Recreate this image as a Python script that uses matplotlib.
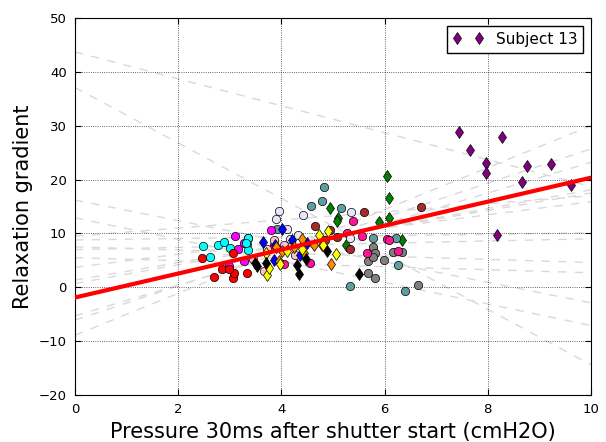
import numpy as np
import matplotlib
matplotlib.use('Agg')
import matplotlib.pyplot as plt

# per-subject data (pressure, gradient)
s13_x = [7.45, 7.66, 8.28, 7.97, 7.97, 8.76, 9.22, 8.67, 9.61, 8.17]
s13_y = [28.9, 25.5, 27.9, 23.1, 21.3, 22.5, 22.8, 19.5, 18.9, 9.8]

green_x = [6.05, 6.09, 6.09, 5.90, 4.94, 5.10, 5.07, 5.25, 6.34]
green_y = [20.6, 16.5, 12.8, 12.1, 14.7, 12.8, 12.4, 7.9, 8.7]

teal_x = [4.83, 4.79, 4.57, 5.15, 5.78, 6.22, 6.25, 5.33, 6.40, 3.92, 3.33, 3.35]
teal_y = [18.6, 16.0, 15.1, 14.7, 9.2, 9.2, 4.1, 0.3, -0.6, 10.8, 8.0, 9.2]

gray_x = [5.78, 5.81, 5.68, 5.98, 5.68, 5.81, 6.17, 6.33, 6.65, 5.77]
gray_y = [7.4, 6.3, 4.8, 5.1, 2.7, 1.7, 6.6, 6.6, 0.4, 5.7]

brown_x = [5.61, 6.70, 4.65, 4.95, 5.08, 5.32, 4.84]
brown_y = [14.0, 14.9, 11.4, 10.6, 9.4, 7.2, 8.7]

dpink_x = [5.38, 5.28, 5.56, 6.05, 6.08, 6.25, 5.65, 4.56, 4.06]
dpink_y = [12.4, 10.1, 9.6, 9.0, 8.7, 6.7, 6.3, 4.6, 4.3]

lav_x = [3.95, 3.90, 4.42, 5.35, 5.33, 4.11, 4.32, 4.17]
lav_y = [14.1, 12.7, 13.4, 13.9, 9.2, 10.8, 9.7, 8.9]

mag_x = [3.10, 3.79, 3.28, 3.15, 2.98, 3.27, 3.86]
mag_y = [9.5, 10.6, 8.2, 7.1, 4.0, 4.8, 7.9]

cyan_x = [2.48, 2.62, 2.78, 2.89, 3.01, 3.35, 3.35, 3.31]
cyan_y = [7.6, 5.7, 7.8, 8.5, 7.3, 9.2, 6.9, 8.2]

red_x = [2.47, 2.70, 2.84, 3.06, 3.09, 3.07, 3.33, 2.98]
red_y = [5.4, 1.9, 3.4, 1.7, 2.6, 6.4, 2.6, 3.4]

pink_x = [3.86, 3.72, 3.67, 4.26, 4.05, 3.45]
pink_y = [8.7, 7.2, 3.0, 6.0, 7.9, 5.2]

blue_x = [3.65, 4.02, 4.21, 3.88, 4.37, 3.86, 4.50]
blue_y = [8.5, 10.8, 8.7, 7.9, 6.0, 5.0, 8.2]

orange_x = [4.40, 4.64, 3.90, 4.01, 4.44, 4.97, 4.79, 4.24, 3.95]
orange_y = [9.0, 7.8, 7.5, 6.8, 6.3, 4.4, 7.8, 7.5, 4.8]

yellow_x = [4.72, 4.90, 4.80, 5.05, 3.72, 3.76, 3.97, 3.70, 4.10, 4.39]
yellow_y = [9.8, 10.4, 7.8, 6.1, 2.2, 3.6, 4.3, 6.3, 6.8, 7.1]

black_x = [3.53, 3.70, 4.48, 4.31, 4.34, 5.50, 4.88, 3.49]
black_y = [4.0, 4.5, 5.2, 4.1, 2.5, 2.5, 6.8, 4.5]

# individual subject fits: value at x=0 and at x=10
fit_y0 = [43.7, 37.1, -8.9, -6.1, -5.3, 0.7, 1.35, 3.7, 16.2, 12.9, 8.8, 7.5, 5.5, 9.5, 7.0]
fit_y10 = [18.7, -14.4, 30.0, 25.7, 23.2, 18.1, 17.5, 15.9, -2.9, -7.1, 10.1, 4.6, 2.7, 17.0, 9.0]

# overall fit
all_y0 = -1.9
all_y10 = 20.35

fig = plt.figure(figsize=(6.06, 4.42), dpi=100)
ax = fig.add_axes([75/606, 1-395/442, (591-75)/606, (395-18)/442])

xs = [0, 10]
for a, b in zip(fit_y0, fit_y10):
    ax.plot(xs, [a, b], '--', color='0.85', lw=1, dashes=(6, 6), zorder=1)

groups = [
    (green_x, green_y, 'green', 'd'),
    (teal_x, teal_y, 'cadetblue', 'o'),
    (gray_x, gray_y, 'gray', 'o'),
    (brown_x, brown_y, 'brown', 'o'),
    (dpink_x, dpink_y, 'deeppink', 'o'),
    (lav_x, lav_y, 'lavender', 'o'),
    (mag_x, mag_y, 'magenta', 'o'),
    (cyan_x, cyan_y, 'cyan', 'o'),
    (red_x, red_y, 'red', 'o'),
    (pink_x, pink_y, 'pink', 'o'),
    (blue_x, blue_y, 'blue', 'd'),
    (orange_x, orange_y, 'darkorange', 'd'),
    (yellow_x, yellow_y, 'yellow', 'd'),
    (black_x, black_y, 'black', 'd'),
]
for gx, gy, c, m in groups:
    ax.plot(gx, gy, m, color=c, mec='black', mew=0.5, ms=6, zorder=3)

ax.plot(s13_x, s13_y, 'd', color='purple', mec='black', mew=0.5, ms=6,
        zorder=3, label='Subject 13')

ax.plot(xs, [all_y0, all_y10], '-', color='red', lw=3, zorder=4)

ax.set_xlim(0, 10)
ax.set_ylim(-20, 50)
ax.set_xticks(np.arange(0, 11, 2))
ax.set_yticks(np.arange(-20, 51, 10))
ax.grid(True, linestyle=':', color='black', lw=0.6, alpha=0.8)
ax.tick_params(direction='in', top=True, right=True, labelsize=9.5, length=4, pad=6)
ax.set_xlabel('Pressure 30ms after shutter start (cmH2O)', fontsize=15)
ax.set_ylabel('Relaxation gradient', fontsize=15)

leg = ax.legend(loc='upper right', numpoints=2, fontsize=11, fancybox=False,
                framealpha=1, edgecolor='black', borderaxespad=0.5)
leg.get_frame().set_linewidth(1)

fig.savefig('out.png', dpi=100)
